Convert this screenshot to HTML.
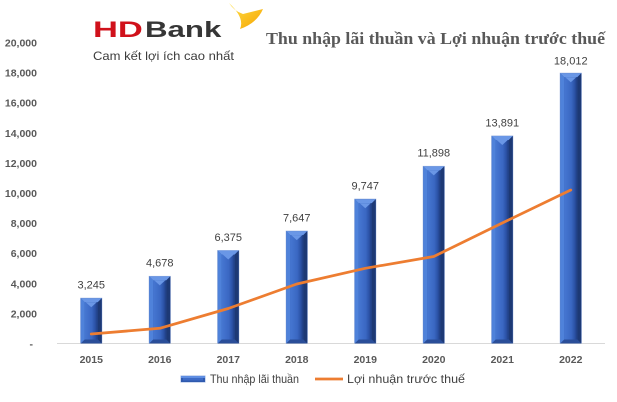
<!DOCTYPE html>
<html>
<head>
<meta charset="utf-8">
<style>
  html,body{margin:0;padding:0;background:#fff;}
  svg{display:block;}
</style>
</head>
<body>
<svg width="617" height="402" viewBox="0 0 617 402" xmlns="http://www.w3.org/2000/svg">
  <defs>
    <linearGradient id="face" x1="0" y1="0" x2="1" y2="0">
      <stop offset="0" stop-color="#4677d2"/>
      <stop offset="0.55" stop-color="#3a67c2"/>
      <stop offset="0.8" stop-color="#2b52a6"/>
      <stop offset="1" stop-color="#1f3d80"/>
    </linearGradient>
    <linearGradient id="sw" x1="0" y1="0" x2="1" y2="1">
      <stop offset="0" stop-color="#ffe14a"/>
      <stop offset="1" stop-color="#f6a400"/>
    </linearGradient>
  </defs>

  <rect width="617" height="402" fill="#fff"/>

  <!-- Logo -->
  <path d="M229,3 Q234,11 243,14 L263,9 Q257,23 240,29 Q245,18 229,3 Z" fill="url(#sw)"/>
  <text transform="translate(93,37) scale(1.57,1)" x="0" y="0" font-family="Liberation Sans, sans-serif" font-weight="bold" font-size="22" fill="#d0111b">HD</text>
  <text transform="translate(145,37) scale(1.42,1)" x="0" y="0" font-family="Liberation Sans, sans-serif" font-weight="bold" font-size="22" fill="#363636">Bank</text>
  <text x="93" y="60" font-family="Liberation Sans, sans-serif" font-size="12" fill="#3c3c3c" textLength="141" lengthAdjust="spacingAndGlyphs">Cam kết lợi ích cao nhất</text>

  <!-- Title -->
  <text x="266" y="44" font-family="Liberation Serif, serif" font-weight="bold" font-size="16.5" fill="#595959" textLength="339" lengthAdjust="spacingAndGlyphs">Thu nhập lãi thuần và Lợi nhuận trước thuế</text>

  <!-- Y axis labels -->
  <g font-family="Liberation Sans, sans-serif" font-weight="bold" font-size="10.5" fill="#595959" text-anchor="end">
    <text x="37" y="46.5">20,000</text>
    <text x="37" y="76.6">18,000</text>
    <text x="37" y="106.7">16,000</text>
    <text x="37" y="136.8">14,000</text>
    <text x="37" y="166.9">12,000</text>
    <text x="37" y="197">10,000</text>
    <text x="37" y="227.1">8,000</text>
    <text x="37" y="257.2">6,000</text>
    <text x="37" y="287.3">4,000</text>
    <text x="37" y="317.4">2,000</text>
    <text x="33" y="347.5">-</text>
  </g>

  <!-- Axis line -->
  <line x1="57" y1="343.5" x2="605" y2="343.5" stroke="#d9d9d9" stroke-width="1"/>

  <!-- Bars -->
  <g id="bars">
    <g transform="translate(80.75,298.26)">
      <rect x="-0.5" y="-0.5" width="22" height="45.74" fill="#9fb5e0"/>
      <rect x="0" y="0" width="21" height="45.24" fill="#2f5aae"/>
      <polygon points="0,0 21,0 17,4 4,4" fill="#6a97e6"/>
      <polygon points="0,0 4,4 4,41.24 0,45.24" fill="#4f82da"/>
      <polygon points="21,0 17,4 17,41.24 21,45.24" fill="#1d3975"/>
      <polygon points="0,45.24 4,41.24 17,41.24 21,45.24" fill="#2a4e99"/>
      <rect x="4" y="4" width="13" height="37.24" fill="url(#face)"/>
      <polygon points="5,4 16,4 10.5,9" fill="#6a97e6"/>
    </g>
    <g transform="translate(149.25,276.42)">
      <rect x="-0.5" y="-0.5" width="22" height="67.58" fill="#9fb5e0"/>
      <rect x="0" y="0" width="21" height="67.08" fill="#2f5aae"/>
      <polygon points="0,0 21,0 17,4 4,4" fill="#6a97e6"/>
      <polygon points="0,0 4,4 4,63.08 0,67.08" fill="#4f82da"/>
      <polygon points="21,0 17,4 17,63.08 21,67.08" fill="#1d3975"/>
      <polygon points="0,67.08 4,63.08 17,63.08 21,67.08" fill="#2a4e99"/>
      <rect x="4" y="4" width="13" height="59.08" fill="url(#face)"/>
      <polygon points="5,4 16,4 10.5,9" fill="#6a97e6"/>
    </g>
    <g transform="translate(217.75,250.56)">
      <rect x="-0.5" y="-0.5" width="22" height="93.44" fill="#9fb5e0"/>
      <rect x="0" y="0" width="21" height="92.94" fill="#2f5aae"/>
      <polygon points="0,0 21,0 17,4 4,4" fill="#6a97e6"/>
      <polygon points="0,0 4,4 4,88.94 0,92.94" fill="#4f82da"/>
      <polygon points="21,0 17,4 17,88.94 21,92.94" fill="#1d3975"/>
      <polygon points="0,92.94 4,88.94 17,88.94 21,92.94" fill="#2a4e99"/>
      <rect x="4" y="4" width="13" height="84.94" fill="url(#face)"/>
      <polygon points="5,4 16,4 10.5,9" fill="#6a97e6"/>
    </g>
    <g transform="translate(286.25,231.18)">
      <rect x="-0.5" y="-0.5" width="22" height="112.82" fill="#9fb5e0"/>
      <rect x="0" y="0" width="21" height="112.32" fill="#2f5aae"/>
      <polygon points="0,0 21,0 17,4 4,4" fill="#6a97e6"/>
      <polygon points="0,0 4,4 4,108.32 0,112.32" fill="#4f82da"/>
      <polygon points="21,0 17,4 17,108.32 21,112.32" fill="#1d3975"/>
      <polygon points="0,112.32 4,108.32 17,108.32 21,112.32" fill="#2a4e99"/>
      <rect x="4" y="4" width="13" height="104.32" fill="url(#face)"/>
      <polygon points="5,4 16,4 10.5,9" fill="#6a97e6"/>
    </g>
    <g transform="translate(354.75,199.19)">
      <rect x="-0.5" y="-0.5" width="22" height="144.81" fill="#9fb5e0"/>
      <rect x="0" y="0" width="21" height="144.31" fill="#2f5aae"/>
      <polygon points="0,0 21,0 17,4 4,4" fill="#6a97e6"/>
      <polygon points="0,0 4,4 4,140.31 0,144.31" fill="#4f82da"/>
      <polygon points="21,0 17,4 17,140.31 21,144.31" fill="#1d3975"/>
      <polygon points="0,144.31 4,140.31 17,140.31 21,144.31" fill="#2a4e99"/>
      <rect x="4" y="4" width="13" height="136.31" fill="url(#face)"/>
      <polygon points="5,4 16,4 10.5,9" fill="#6a97e6"/>
    </g>
    <g transform="translate(423.25,166.41)">
      <rect x="-0.5" y="-0.5" width="22" height="177.59" fill="#9fb5e0"/>
      <rect x="0" y="0" width="21" height="177.09" fill="#2f5aae"/>
      <polygon points="0,0 21,0 17,4 4,4" fill="#6a97e6"/>
      <polygon points="0,0 4,4 4,173.09 0,177.09" fill="#4f82da"/>
      <polygon points="21,0 17,4 17,173.09 21,177.09" fill="#1d3975"/>
      <polygon points="0,177.09 4,173.09 17,173.09 21,177.09" fill="#2a4e99"/>
      <rect x="4" y="4" width="13" height="169.09" fill="url(#face)"/>
      <polygon points="5,4 16,4 10.5,9" fill="#6a97e6"/>
    </g>
    <g transform="translate(491.75,136.04)">
      <rect x="-0.5" y="-0.5" width="22" height="207.96" fill="#9fb5e0"/>
      <rect x="0" y="0" width="21" height="207.46" fill="#2f5aae"/>
      <polygon points="0,0 21,0 17,4 4,4" fill="#6a97e6"/>
      <polygon points="0,0 4,4 4,203.46 0,207.46" fill="#4f82da"/>
      <polygon points="21,0 17,4 17,203.46 21,207.46" fill="#1d3975"/>
      <polygon points="0,207.46 4,203.46 17,203.46 21,207.46" fill="#2a4e99"/>
      <rect x="4" y="4" width="13" height="199.46" fill="url(#face)"/>
      <polygon points="5,4 16,4 10.5,9" fill="#6a97e6"/>
    </g>
    <g transform="translate(560.25,73.25)">
      <rect x="-0.5" y="-0.5" width="22" height="270.75" fill="#9fb5e0"/>
      <rect x="0" y="0" width="21" height="270.25" fill="#2f5aae"/>
      <polygon points="0,0 21,0 17,4 4,4" fill="#6a97e6"/>
      <polygon points="0,0 4,4 4,266.25 0,270.25" fill="#4f82da"/>
      <polygon points="21,0 17,4 17,266.25 21,270.25" fill="#1d3975"/>
      <polygon points="0,270.25 4,266.25 17,266.25 21,270.25" fill="#2a4e99"/>
      <rect x="4" y="4" width="13" height="262.25" fill="url(#face)"/>
      <polygon points="5,4 16,4 10.5,9" fill="#6a97e6"/>
    </g>
  </g>

  <!-- Data labels -->
  <g font-family="Liberation Sans, sans-serif" font-size="11" fill="#404040" text-anchor="middle">
    <text x="91.25" y="288.5">3,245</text>
    <text x="159.75" y="266.7">4,678</text>
    <text x="228.25" y="240.8">6,375</text>
    <text x="296.75" y="221.4">7,647</text>
    <text x="365.25" y="189.4">9,747</text>
    <text x="433.75" y="156.7">11,898</text>
    <text x="502.25" y="126.3">13,891</text>
    <text x="570.75" y="64.5">18,012</text>
  </g>

  <!-- Line series -->
  <polyline points="91.25,334 159.75,328.3 228.25,308.5 296.75,284 365.25,268.3 433.75,256.5 502.25,223 570.75,190"
    fill="none" stroke="#ed7d31" stroke-width="2.75" stroke-linejoin="round" stroke-linecap="round"/>

  <!-- X labels -->
  <g font-family="Liberation Sans, sans-serif" font-weight="bold" font-size="10.5" fill="#595959" text-anchor="middle">
    <text x="91.25" y="363">2015</text>
    <text x="159.75" y="363">2016</text>
    <text x="228.25" y="363">2017</text>
    <text x="296.75" y="363">2018</text>
    <text x="365.25" y="363">2019</text>
    <text x="433.75" y="363">2020</text>
    <text x="502.25" y="363">2021</text>
    <text x="570.75" y="363">2022</text>
  </g>

  <!-- Legend -->
  <rect x="180.5" y="375.5" width="25" height="7" fill="#9fb5e0"/>
  <rect x="181" y="376" width="24" height="6" fill="#2f5aae"/>
  <rect x="181" y="376" width="24" height="2" fill="#5f8ee2"/>
  <rect x="183" y="378" width="20" height="2.5" fill="#3d6bc6"/>
  <text x="210" y="383" font-family="Liberation Sans, sans-serif" font-size="12" fill="#404040" textLength="89" lengthAdjust="spacingAndGlyphs">Thu nhập lãi thuần</text>
  <line x1="315" y1="379" x2="343" y2="379" stroke="#ed7d31" stroke-width="2.75"/>
  <text x="347" y="383" font-family="Liberation Sans, sans-serif" font-size="12" fill="#404040" textLength="118" lengthAdjust="spacingAndGlyphs">Lợi nhuận trước thuế</text>
</svg>
</body>
</html>
